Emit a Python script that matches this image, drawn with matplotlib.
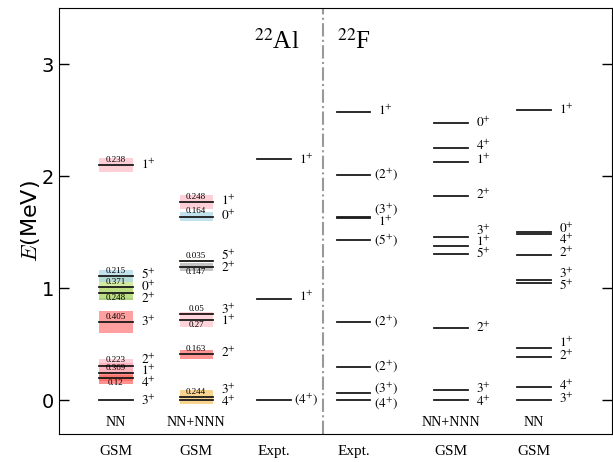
import numpy as np
import matplotlib
matplotlib.use('Agg')
import matplotlib.pyplot as plt

# column names
columns = ['GSM', 'GSM', 'Expt.', 'Expt.', 'GSM', 'GSM']
interactions = ['NN', 'NN+NNN', '', '', 'NN+NNN', 'NN']

# energies (MeV), spins, widths (MeV) per column
e_al_nn = [0.00, 0.20, 0.24, 0.31, 0.70, 0.96, 1.01, 1.11, 2.10]
j_al_nn = ['3', '4', '1', '2', '3', '2', '0', '5', '1']
w_al_nn = [None, 0.12, 0.369, 0.223, 0.405, 0.248, 0.371, 0.215, 0.238]

e_al_nnn = [0.00, 0.03, 0.41, 0.72, 0.77, 1.19, 1.24, 1.64, 1.77]
j_al_nnn = ['4', '3', '2', '1', '3', '2', '5', '0', '1']
w_al_nnn = [None, 0.244, 0.163, 0.27, 0.05, 0.147, 0.035, 0.164, 0.248]

e_al_exp = [0.00, 0.90, 2.15]
j_al_exp = ['(4)', '1', '1']

e_f_exp = [0.00, 0.07, 0.30, 0.70, 1.43, 1.63, 1.64, 2.01, 2.57]
j_f_exp = ['(4)', '(3)', '(2)', '(2)', '(5)', '1', '(3)', '(2)', '1']

e_f_nnn = [0.00, 0.09, 0.65, 1.31, 1.38, 1.46, 1.82, 2.13, 2.25, 2.47]
j_f_nnn = ['4', '3', '2', '5', '1', '3', '2', '1', '4', '0']

e_f_nn = [0.00, 0.12, 0.39, 0.47, 1.05, 1.07, 1.30, 1.48, 1.50, 2.59]
j_f_nn = ['3', '4', '2', '1', '5', '3', '2', '4', '0', '1']

# label y positions (spread out where levels crowd)
ly_al_nn = [0.00, 0.16, 0.26, 0.36, 0.70, 0.91, 1.01, 1.12, 2.10]
ly_al_nnn = [-0.01, 0.09, 0.42, 0.71, 0.81, 1.18, 1.29, 1.65, 1.78]
ly_al_exp = [0.00, 0.92, 2.15]
ly_f_exp = [-0.03, 0.10, 0.30, 0.70, 1.42, 1.59, 1.70, 2.01, 2.58]
ly_f_nnn = [-0.01, 0.10, 0.65, 1.31, 1.41, 1.51, 1.83, 2.15, 2.27, 2.48]
ly_f_nn = [0.01, 0.13, 0.40, 0.51, 1.02, 1.13, 1.32, 1.43, 1.53, 2.59]

# band colours and width-label side (+1 above, -1 below)
c_al_nn = [None, '#ff6a3d', '#ff6b6b', '#ffc0cb', '#ff7f7f', '#8cc152', '#c5e384', '#add8e6', '#ffc0cb']
s_al_nn = [0, -1, 1, 1, 1, -1, 1, 1, 1]
c_al_nnn = [None, '#f7c56b', '#ff7070', '#ffc8d0', '#ff7070', '#b0b0b0', '#7aa83a', '#add8e6', '#ffc0cb']
s_al_nnn = [0, 1, 1, -1, 1, -1, 1, 1, 1]

centers = [1.03, 2.48, 3.89, 5.33, 7.09, 8.59]
half = 0.30

plt.rcParams['font.family'] = ['Liberation Serif', 'DejaVu Serif']

fig = plt.figure(figsize=(6.13, 4.62), dpi=100)
ax = fig.add_axes([0.0962, 0.0606, 0.902, 0.9221])
ax.set_xlim(0, 10)
ax.set_ylim(-0.3, 3.5)


def spin(j):
    if j.startswith('('):
        return r'$(' + j[1:-1] + r'^{+})$'
    return r'$' + j + r'^{+}$'


def draw(col, energies, spins, label_y, widths=None, colors=None, sides=None):
    x = centers[col]
    for k, e in enumerate(energies):
        if widths is not None and widths[k] is not None:
            w = widths[k]
            ax.fill_between([x - half, x + half], e - w / 4, e + w / 4,
                            color=colors[k], alpha=0.75, lw=0, zorder=1)
            off = 0.012 if sides[k] > 0 else -0.012
            ax.text(x, e + off, str(w), fontsize=6.5, ha='center',
                    va='bottom' if sides[k] > 0 else 'top', zorder=3)
        ax.plot([x - half, x + half], [e, e], color='#1a1a1a', lw=1.3, zorder=2)
        ax.text(x + half + 0.28, label_y[k], spin(spins[k]), fontsize=9.5,
                ha='center', va='center', math_fontfamily='stix')


draw(0, e_al_nn, j_al_nn, ly_al_nn, w_al_nn, c_al_nn, s_al_nn)
draw(1, e_al_nnn, j_al_nnn, ly_al_nnn, w_al_nnn, c_al_nnn, s_al_nnn)
draw(2, e_al_exp, j_al_exp, ly_al_exp)
draw(3, e_f_exp, j_f_exp, ly_f_exp)
draw(4, e_f_nnn, j_f_nnn, ly_f_nnn)
draw(5, e_f_nn, j_f_nn, ly_f_nn)

for x, name in zip(centers, interactions):
    if name:
        ax.text(x, -0.2, name, fontsize=10, ha='center', va='center')

ax.axvline(4.77, color='#999999', ls='-.', lw=1.5)
ax.text(3.93, 3.2, r'$^{22}$Al', fontsize=18, ha='center', va='center',
        math_fontfamily='stix')
ax.text(5.33, 3.2, r'$^{22}$F', fontsize=18, ha='center', va='center',
        math_fontfamily='stix')

ax.set_xticks(centers)
ax.set_xticklabels(columns, fontsize=11)
ax.set_yticks([0, 1, 2, 3])
ax.set_yticklabels(['0', '1', '2', '3'], fontsize=14, family='DejaVu Sans')
ax.tick_params(axis='x', length=0, pad=8)
ax.tick_params(axis='y', direction='in', length=7, right=True, width=1)
ax.set_ylabel(r'$E$(MeV)', fontsize=16, family='DejaVu Sans',
              math_fontfamily='cm', labelpad=0)

fig.savefig('out.png', dpi=100)
